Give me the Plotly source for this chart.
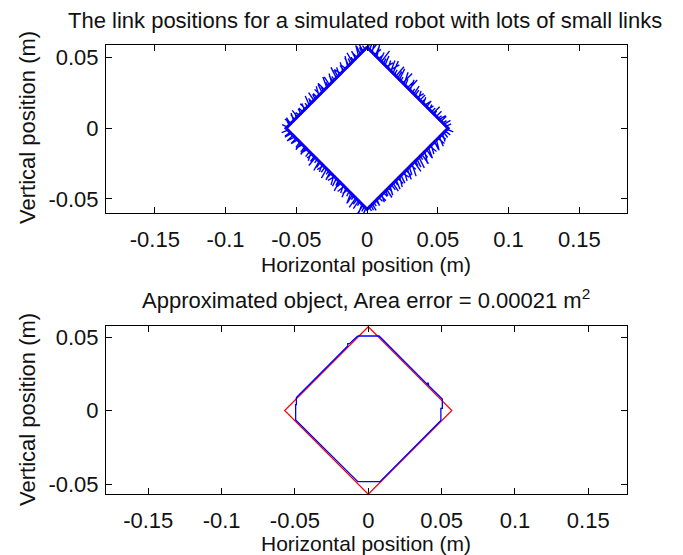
import plotly.graph_objects as go

# ---------------- data ----------------
TOP_TITLE = "The link positions for a simulated robot with lots of small links"
BOT_TITLE = "Approximated object, Area error = 0.00021 m<sup>2</sup>"
X_LABEL = "Horizontal position (m)"
Y_LABEL = "Vertical position (m)"

X_TICKS = [-0.15, -0.1, -0.05, 0, 0.05, 0.1, 0.15]
X_TICK_TEXT = ["-0.15", "-0.1", "-0.05", "0", "0.05", "0.1", "0.15"]
Y_TICKS = [-0.05, 0, 0.05]
Y_TICK_TEXT = ["-0.05", "0", "0.05"]

# true object (red diamond), top and bottom panels
RED_TOP_X = [0.0, 0.0565, 0.0, -0.0565, 0.0]
RED_TOP_Y = [0.0565, 0.0, -0.0565, 0.0, 0.0565]
RED_BOT_X = [0.0, 0.057, 0.0, -0.057, 0.0]
RED_BOT_Y = [0.057, 0.0, -0.057, 0.0, 0.057]

# dense chain of links hugging the outside of the diamond (half-size, m)
LINK_BAND_HALF = 0.0578

# small-link "hairs" along each diamond edge: position along edge (0..1),
# outward horizontal and vertical reach (mm)
HAIR_T = [0.01,0.03,0.045,0.06,0.085,0.10,0.12,0.135,0.16,0.175,
          0.20,0.22,0.235,0.26,0.28,0.295,0.32,0.34,0.355,0.38,
          0.40,0.415,0.44,0.46,0.475,0.50,0.52,0.535,0.56,0.58,
          0.595,0.62,0.64,0.655,0.68,0.70,0.715,0.74,0.76,0.775,
          0.80,0.82,0.835,0.86,0.88,0.895,0.92,0.94,0.955,0.98]
E1_h = [4,2,3,5,2,3,1,4,3,2, 3,2,4,2,3,1,3,4,2,3, 2,4,3,2,5,3,2,4,2,3, 2,4,3,2,5,2,3,4,2,3, 2,4,2,3,4,2,3,2,4,2]
E1_v = [2,4,5,3,6,4,3,5,2,4, 3,5,4,3,7,4,3,6,4,3, 7,4,6,3,5,8,3,6,7,4, 3,8,5,6,3,7,4,3,8,6, 4,7,3,6,4,8,6,4,7,3]
E2_h = [2,3,4,2,5,3,2,4,3,6, 2,3,5,2,7,3,4,2,6,3, 4,2,7,3,2,4,6,3,2,4, 3,5,2,4,3,2,5,3,4,2, 3,5,2,4,3,5,4,3,5,4]
E2_v = [7,9,5,8,4,7,9,3,6,8, 4,7,3,6,4,8,9,4,7,5, 8,3,7,9,5,4,7,8,3,6, 4,3,6,4,3,5,3,4,2,4, 3,5,3,4,2,3,4,2,3,2]
E3_h = [5,4,3,2,4,3,5,2,3,4, 2,5,3,4,2,3,5,2,4,3, 2,5,3,4,2,3,4,2,5,3, 2,4,3,2,4,3,2,3,4,2, 3,2,4,3,2,3,2,3,2,2]
E3_v = [2,3,4,6,3,7,4,8,6,3, 7,4,8,6,9,4,7,3,8,6, 4,7,9,3,6,8,4,7,3,6, 8,4,7,3,6,4,7,3,6,4, 3,6,4,3,5,4,3,5,4,3]
E4_h = [3,2,4,3,2,4,3,5,2,4, 3,2,4,3,5,2,3,4,2,3, 5,2,4,3,2,4,3,5,2,3, 4,2,5,3,4,2,3,5,4,3, 5,4,3,5,4,6,4,5,4,5]
E4_v = [7,4,6,8,3,6,4,7,3,6, 8,4,3,7,4,6,3,7,4,6, 3,7,4,6,3,7,4,3,6,4, 7,3,6,4,3,6,4,3,5,4, 3,5,4,3,4,3,4,3,3,2]

# approximated object (blue polygon), bottom panel
BLUE_X = [-0.0072, 0.0074, 0.0403, 0.0408, 0.0412, 0.0505, 0.0505, 0.0495, 0.0495,
          0.0080, -0.0071, -0.0495, -0.0495, -0.0490, -0.0490, -0.0140, -0.0140, -0.0128, -0.0072]
BLUE_Y = [0.0507, 0.0507, 0.0178, 0.0190, 0.0169, 0.0078, 0.0015, 0.0015, -0.0067,
          -0.0484, -0.0484, -0.0065, 0.0040, 0.0040, 0.0088, 0.0439, 0.0455, 0.0455, 0.0507]

# ---------------- build hair path ----------------
D = RED_TOP_Y[0]
edges = [
    ((-D, 0.0), (0.0, D), -1, 1, E1_h, E1_v),
    ((0.0, D), (D, 0.0), 1, 1, E2_h, E2_v),
    ((D, 0.0), (0.0, -D), 1, -1, E3_h, E3_v),
    ((0.0, -D), (-D, 0.0), -1, -1, E4_h, E4_v),
]
hx, hy = [], []
for (x0, y0), (x1, y1), sx, sy, hs, vs in edges:
    hx.append(x0); hy.append(y0)
    for t, h, v in zip(HAIR_T, hs, vs):
        bx = x0 + (x1 - x0) * t
        by = y0 + (y1 - y0) * t
        hx += [bx, bx + sx * h * 1e-3, bx]
        hy += [by, by + sy * v * 1e-3, by]
    hx.append(x1); hy.append(y1)

BD = LINK_BAND_HALF
band_x = [0.0, BD, 0.0, -BD, 0.0]
band_y = [BD, 0.0, -BD, 0.0, BD]

# ---------------- figure ----------------
FONT = "Liberation Sans, Arial, Helvetica, sans-serif"
fig = go.Figure()
fig.add_trace(go.Scatter(x=band_x, y=band_y, mode="lines",
                         line=dict(color="#0000ff", width=2), xaxis="x", yaxis="y"))
fig.add_trace(go.Scatter(x=RED_TOP_X, y=RED_TOP_Y, mode="lines",
                         line=dict(color="#ff0000", width=1.2), xaxis="x", yaxis="y"))
fig.add_trace(go.Scatter(x=hx, y=hy, mode="lines",
                         line=dict(color="#0000ff", width=1.4), xaxis="x", yaxis="y"))
fig.add_trace(go.Scatter(x=RED_BOT_X, y=RED_BOT_Y, mode="lines",
                         line=dict(color="#ff0000", width=1.2), xaxis="x2", yaxis="y2"))
fig.add_trace(go.Scatter(x=BLUE_X, y=BLUE_Y, mode="lines",
                         line=dict(color="#0000ff", width=1.3), xaxis="x2", yaxis="y2"))

ax = dict(showline=True, linecolor="black", linewidth=1, mirror="ticks",
          ticks="inside", ticklen=6, tickcolor="black", tickwidth=1,
          showgrid=False, zeroline=False,
          tickfont=dict(family=FONT, size=22, color="#111"))

L, R, T, B = 106, 56, 45, 61
H = 555 - T - B
def py(p):
    return (555 - B - p) / H
def px(p):
    return (p - L) / (683 - L - R)

fig.update_layout(
    width=683, height=555,
    margin=dict(l=L, r=R, t=T, b=B),
    paper_bgcolor="white", plot_bgcolor="white",
    showlegend=False,
    xaxis=dict(ax, domain=[0, 1], anchor="y", range=[-0.1845, 0.1837],
               tickvals=X_TICKS, ticktext=X_TICK_TEXT, ticklabelstandoff=7),
    yaxis=dict(ax, domain=[py(213), 1], anchor="x", range=[-0.0599, 0.0588],
               tickvals=Y_TICKS, ticktext=Y_TICK_TEXT, ticklabelstandoff=2),
    xaxis2=dict(ax, domain=[0, 1], anchor="y2", range=[-0.1788, 0.1764],
                tickvals=X_TICKS, ticktext=X_TICK_TEXT, ticklabelstandoff=7),
    yaxis2=dict(ax, domain=[0, py(326)], anchor="x2", range=[-0.0568, 0.0575],
                tickvals=Y_TICKS, ticktext=Y_TICK_TEXT, ticklabelstandoff=2),
)

tf = dict(family=FONT, size=22, color="#111")
xf = dict(family=FONT, size=21, color="#111")
ann = [
    dict(text=TOP_TITLE, x=px(365), y=py(20), yanchor="middle", font=tf),
    dict(text=X_LABEL, x=px(366), y=py(264), yanchor="middle", font=xf),
    dict(text=BOT_TITLE, x=px(366), y=py(299), yanchor="middle", font=tf),
    dict(text=X_LABEL, x=px(366), y=py(543), yanchor="middle", font=xf),
    dict(text=Y_LABEL, x=px(27), y=py(128), yanchor="middle", textangle=-90, font=tf),
    dict(text=Y_LABEL, x=px(27), y=py(410), yanchor="middle", textangle=-90, font=tf),
]
for a in ann:
    fig.add_annotation(xref="paper", yref="paper", showarrow=False, borderpad=0,
                       xanchor="center", **a)

fig.write_html("out.html")
